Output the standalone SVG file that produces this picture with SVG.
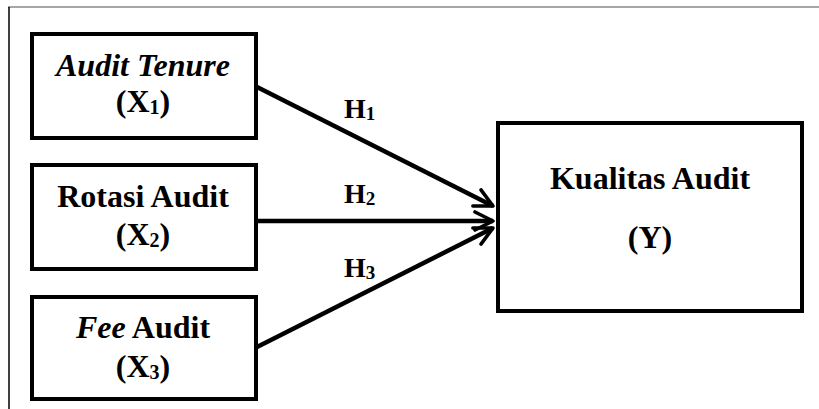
<svg xmlns="http://www.w3.org/2000/svg" width="819" height="409" viewBox="0 0 819 409">
<style>
.box{fill:#fff;stroke:#000;stroke-width:4}
.t{font-family:"Liberation Serif","Times New Roman",serif;font-weight:bold;font-size:32px;fill:#000;text-anchor:middle}
.i{font-style:italic}
.sub{font-size:20px}
.h{font-family:"Liberation Serif","Times New Roman",serif;font-weight:bold;font-size:28px;fill:#000}
.h .sub{font-size:19px}
.c{stroke:#000;stroke-width:4.5;fill:none}
</style>
<defs>
<marker id="arr" viewBox="0 0 10 10" refX="9" refY="5" markerWidth="5" markerHeight="5" orient="auto" markerUnits="strokeWidth">
<path d="M1,1 L9,5 L1,9" fill="none" stroke="#000" stroke-width="1.6" stroke-linecap="round" stroke-linejoin="round"/>
</marker>
</defs>
<rect width="819" height="409" fill="#fff"/>
<g id="frame">
<line x1="8" y1="7" x2="819" y2="7" stroke="#888" stroke-width="1.5"/>
<line x1="9" y1="7" x2="9" y2="409" stroke="#000" stroke-width="1.5"/>
</g>
<g id="connectors">
<line class="c" x1="257" y1="87" x2="493" y2="206" marker-end="url(#arr)"/>
<line class="c" x1="257" y1="221" x2="493" y2="221" marker-end="url(#arr)"/>
<line class="c" x1="257" y1="347" x2="493" y2="228" marker-end="url(#arr)"/>
<text class="h" x="344" y="118">H<tspan class="sub" dy="2">1</tspan></text>
<text class="h" x="344" y="203">H<tspan class="sub" dy="2">2</tspan></text>
<text class="h" x="344" y="277">H<tspan class="sub" dy="2">3</tspan></text>
</g>
<g id="x1">
<rect class="box" x="32" y="34" width="224" height="104"/>
<text class="t i" x="143" y="76">Audit Tenure</text>
<text class="t" x="143" y="112">(X<tspan class="sub" dy="2">1</tspan><tspan dy="-2">)</tspan></text>
</g>
<g id="x2">
<rect class="box" x="32" y="165" width="224" height="104"/>
<text class="t" x="143" y="207">Rotasi Audit</text>
<text class="t" x="143" y="245">(X<tspan class="sub" dy="2">2</tspan><tspan dy="-2">)</tspan></text>
</g>
<g id="x3">
<rect class="box" x="32" y="297" width="224" height="102"/>
<text class="t" x="143" y="338"><tspan class="i">Fee</tspan> Audit</text>
<text class="t" x="143" y="377">(X<tspan class="sub" dy="2">3</tspan><tspan dy="-2">)</tspan></text>
</g>
<g id="y">
<rect class="box" x="498" y="123" width="304" height="188"/>
<text class="t" x="650" y="189">Kualitas Audit</text>
<text class="t" x="650" y="248">(Y)</text>
</g>
</svg>
